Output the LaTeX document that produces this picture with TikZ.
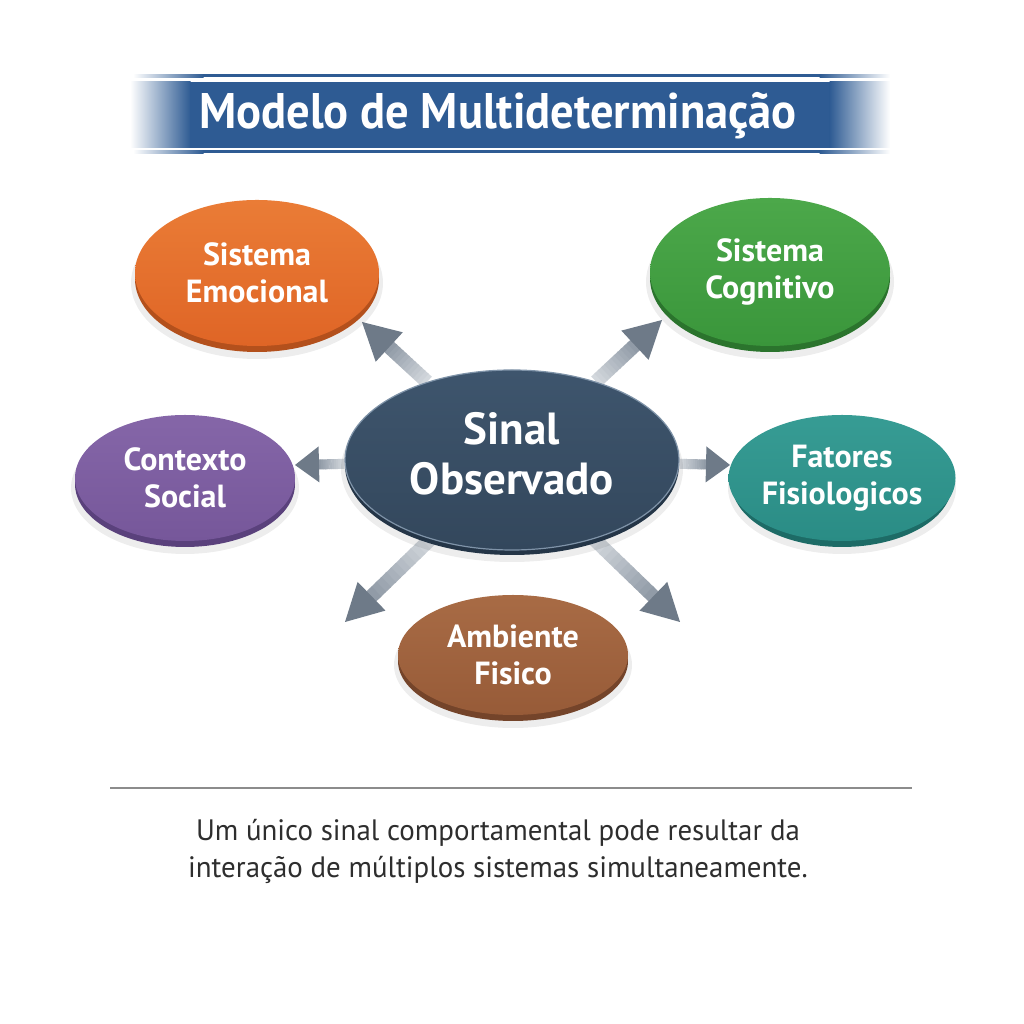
\documentclass[tikz,border=0pt]{standalone}
\usepackage{fontspec}
\setmainfont{PT Sans}
\newfontfamily\hdfont{PT Sans}[FakeStretch=0.93]
\newfontfamily\nodefont{PT Sans}
\newfontfamily\bodyfont{PT Sans}[FakeStretch=0.98]
\usetikzlibrary{shapes.geometric,arrows.meta,calc}
\definecolor{ttl}{HTML}{2E5B93}
\definecolor{org}{HTML}{DF6526}\definecolor{orgL}{HTML}{EA7C36}\definecolor{orgD}{HTML}{B3501C}
\definecolor{grn}{HTML}{3A963B}\definecolor{grnL}{HTML}{4CA84A}\definecolor{grnD}{HTML}{2B742D}
\definecolor{pur}{HTML}{76579A}\definecolor{purL}{HTML}{8566A8}\definecolor{purD}{HTML}{5A417C}
\definecolor{tea}{HTML}{2A8C85}\definecolor{teaL}{HTML}{379C94}\definecolor{teaD}{HTML}{1D6B66}
\definecolor{brn}{HTML}{975B38}\definecolor{brnL}{HTML}{A86B45}\definecolor{brnD}{HTML}{74442A}
\definecolor{nav}{HTML}{33475C}\definecolor{navL}{HTML}{3E556D}\definecolor{navD}{HTML}{243547}
\definecolor{navR}{HTML}{7F93A8}
\definecolor{arrL}{HTML}{D3D8DD}\definecolor{arrM}{HTML}{8893A0}\definecolor{arrD}{HTML}{6E7A88}
\definecolor{txt}{HTML}{2E2E2E}
\pgfdeclarelayer{bg}\pgfdeclarelayer{paper}\pgfsetlayers{paper,bg,main}
\newcommand\fadebar[5]{% x1 x2 y1 y2 fade
  \shade[left color=white,right color=ttl] (#1,#3) rectangle ({#1+#5+0.5},#4);
  \fill[ttl] ({#1+#5},#3) rectangle ({#2-#5},#4);
  \shade[left color=ttl,right color=white] ({#2-#5-0.5},#3) rectangle (#2,#4);}
\newcommand\garrow[5]{% start node, tip, head length, head half width, shaft width
  \path (#1) -- (#2) coordinate[pos=0] (gs);
  \coordinate (gh) at ($(#2)!#3pt!(gs)$);
  \foreach \k in {0,...,11}{%
    \pgfmathsetmacro\pa{\k/12}\pgfmathsetmacro\pb{(\k+1.2)/12}%
    \pgfmathtruncatemacro\mix{100-\k*8}%
    \draw[line width=#5pt, arrL!\mix!arrM] ($(gs)!\pa!(gh)$) -- ($(gs)!\pb!(gh)$);}
  \fill[arrD] (#2) -- ($(gh)!#4pt!90:(gs)$) -- ($(gh)!#4pt!-90:(gs)$) -- cycle;}
\begin{document}
\begin{tikzpicture}[x=1pt,y=1pt,
  bub/.style={ellipse, inner sep=0pt, text=white, align=center,
    font=\nodefont\bfseries\fontsize{32}{37}\selectfont},
  shad/.style={black, opacity=0.07}]
\useasboundingbox (0,0) rectangle (1024,1024);
\begin{pgfonlayer}{paper}
\fill[white] (0,0) rectangle (1024,1024);
\end{pgfonlayer}

% title banner
\fadebar{133}{890}{946.5}{949.5}{70}
\fadebar{130}{890}{876}{942}{60}
\fadebar{133}{890}{870.5}{873.5}{70}
\node[text=white, font=\hdfont\bfseries\fontsize{50}{56}\selectfont] (title) at (498,908) {Modelo de Multideterminação};

% outer bubbles
\fill[shad] (257,741) ellipse (126 and 76);
\fill[orgD] (257,745) ellipse (122 and 73);
\node[bub, minimum width=244pt, minimum height=146pt, top color=orgL, bottom color=org] (emo) at (257,751) {Sistema\\Emocional};

\fill[shad] (770,742) ellipse (124 and 77);
\fill[grnD] (770,746) ellipse (120 and 74);
\node[bub, minimum width=240pt, minimum height=148pt, top color=grnL, bottom color=grn] (cog) at (770,752) {Sistema\\Cognitivo};

\fill[shad] (185,536) ellipse (114 and 66);
\fill[purD] (185,540) ellipse (110 and 63);
\node[bub, minimum width=220pt, minimum height=126pt, top color=purL, bottom color=pur] (ctx) at (185,546) {Contexto\\Social};

\fill[shad] (842,536) ellipse (114 and 66);
\fill[teaD] (842,540) ellipse (110 and 63);
\node[bub, minimum width=220pt, minimum height=126pt, top color=teaL, bottom color=tea] (fat) at (842,546) {Fatores\\Fisiologicos};

\fill[shad] (513,359) ellipse (119 and 63);
\fill[brnD] (513,363) ellipse (115 and 60);
\node[bub, minimum width=230pt, minimum height=120pt, top color=brnL, bottom color=brn] (amb) at (513,369) {Ambiente\\Fisico};

% central node
\fill[shad] (512,555) ellipse (171 and 93);
\fill[navD] (512,559) ellipse (167 and 90);
\node[bub, minimum width=334pt, minimum height=180pt, top color=navL, bottom color=nav,
  draw=navR, line width=1.2pt,
  font=\nodefont\bfseries\fontsize{45}{50}\selectfont] (c) at (512,564)
  {\raisebox{12pt}{\begin{tabular}{@{}c@{}}Sinal\\Observado\end{tabular}}};

% arrow tips
\coordinate (tEmo) at (362,702);
\coordinate (tCog) at (662,704);
\coordinate (tCtx) at (295,559);
\coordinate (tFat) at (730,559);
\coordinate (tBL) at (345,402);
\coordinate (tBR) at (680,402);

\begin{pgfonlayer}{bg}
\garrow{c}{tEmo}{37}{20}{14}
\garrow{c}{tCog}{37}{20}{14}
\garrow{c}{tCtx}{24}{18}{10}
\garrow{c}{tFat}{24}{18}{10}
\garrow{c}{tBL}{37}{20}{14}
\garrow{c}{tBR}{37}{20}{14}
\end{pgfonlayer}

% rule and caption
\coordinate (rl) at (110,236);
\coordinate (rr) at (912,236);
\draw[line width=1.3pt, black!45] (rl) -- (rr);
\node[text=txt, align=center, font=\bodyfont\fontsize{29.5}{37}\selectfont] (cap) at (498,173)
  {Um único sinal comportamental pode resultar da\\interação de múltiplos sistemas simultaneamente.};
\end{tikzpicture}
\end{document}
